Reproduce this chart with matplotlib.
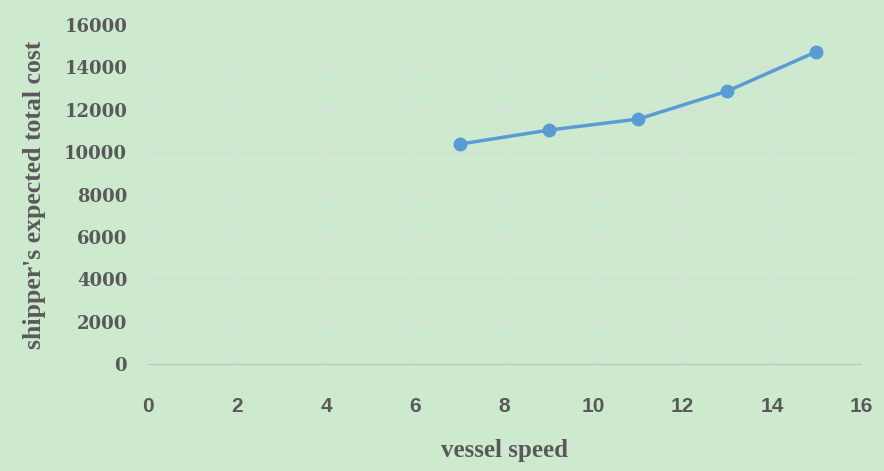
import matplotlib.pyplot as plt

# vessel speed vs shipper's expected total cost
speed = [7, 9, 11, 13, 15]
total_cost = [10380, 11040, 11560, 12880, 14740]

x_ticks = [0, 2, 4, 6, 8, 10, 12, 14, 16]
y_ticks = [0, 2000, 4000, 6000, 8000, 10000, 12000, 14000, 16000]

bg = '#cdeacf'
text_gray = '#595959'

fig = plt.figure(figsize=(8.84, 4.71), dpi=100, facecolor=bg)
ax = fig.add_axes([148 / 884, 1 - 364 / 471, 713 / 884, 339 / 471])
ax.set_facecolor(bg)

ax.plot(speed, total_cost, color='#5b9bd5', linewidth=2.5,
        marker='o', markersize=9, zorder=3)

ax.set_xlim(0, 16)
ax.set_ylim(0, 16000)
ax.set_xticks(x_ticks)
ax.set_yticks(y_ticks)
ax.grid(True, color='#d9dcd9', linewidth=1)
ax.set_axisbelow(True)

for side in ['top', 'right', 'left']:
    ax.spines[side].set_visible(False)
ax.spines['bottom'].set_color('#bfc4bf')
ax.tick_params(length=0, colors=text_gray)
ax.tick_params(axis='x', pad=24)
ax.tick_params(axis='y', pad=15)

for lab in ax.get_xticklabels():
    lab.set_family('Liberation Sans')
    lab.set_fontweight('bold')
    lab.set_fontsize(15)
for lab in ax.get_yticklabels():
    lab.set_family('DejaVu Serif')
    lab.set_fontweight('bold')
    lab.set_fontsize(13)

ax.set_xlabel('vessel speed', family='Liberation Serif', fontweight='bold',
              fontsize=18, color=text_gray, va='center')
ax.set_ylabel("shipper's expected total cost", family='Liberation Serif',
              fontweight='bold', fontsize=18.5, color=text_gray, va='center')
ax.xaxis.set_label_coords(0.5, (364 - 450) / 339)
ax.yaxis.set_label_coords((35 - 148) / 713, 0.5)

fig.savefig('out.png', dpi=100, facecolor=bg)
